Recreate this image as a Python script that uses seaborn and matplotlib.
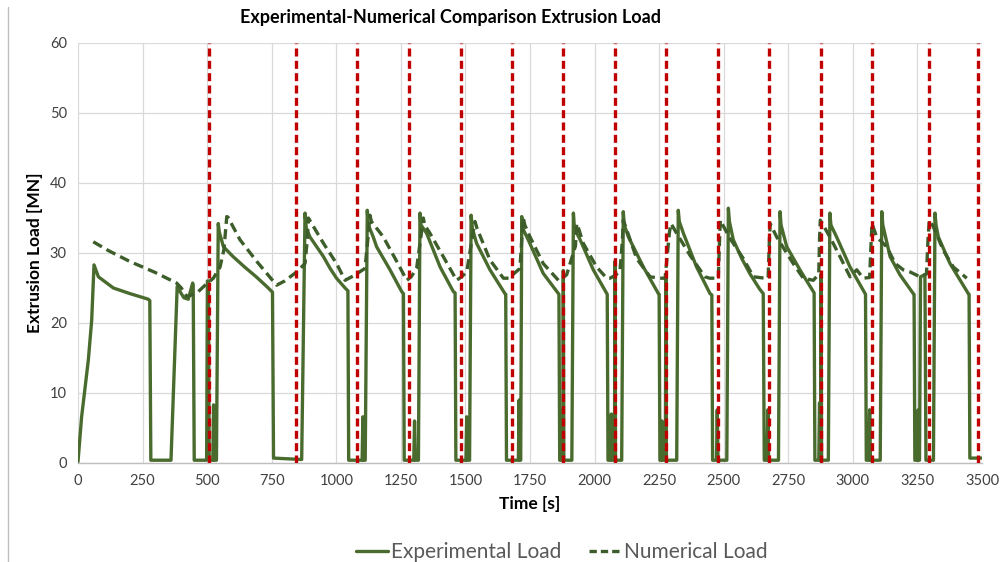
import matplotlib
matplotlib.use("Agg")
import matplotlib.pyplot as plt
import seaborn as sns
import pandas as pd
from matplotlib.lines import Line2D

# --- data ---
exp_time = [0, 14, 40, 53, 62, 79, 137, 201, 272, 278, 282, 360, 384, 395, 410, 427, 444, 446, 450,
            498, 501, 505, 508, 522, 525, 528, 536, 543, 547, 563, 600, 630, 645, 690, 731, 750, 753, 757,
            866, 879, 884, 898, 950, 976, 1001, 1034, 1045, 1048, 1100, 1103, 1106, 1112, 1120,
            1124, 1143, 1156, 1208, 1253, 1260, 1263, 1300, 1303, 1306, 1318, 1324,
            1328, 1350, 1402, 1453, 1460, 1463, 1502, 1505, 1508, 1516, 1522,
            1527, 1543, 1595, 1653, 1656, 1659, 1705, 1708, 1711, 1714, 1718,
            1722, 1743, 1801, 1860, 1862, 1865, 1870, 1872, 1875, 1877, 1879, 1881, 1912, 1918,
            1922, 1944, 1995, 2047, 2049, 2052, 2062, 2065, 2068, 2077, 2079, 2081, 2105, 2111,
            2115, 2131, 2189, 2247, 2250, 2253, 2258, 2261, 2264, 2274, 2276, 2278, 2318, 2324,
            2328, 2344, 2395, 2447, 2454, 2457, 2472, 2475, 2478, 2512, 2518,
            2522, 2537, 2570, 2602, 2640, 2653, 2657, 2668, 2671, 2674, 2712, 2718,
            2722, 2744, 2795, 2847, 2850, 2853, 2868, 2871, 2874, 2876, 2877, 2879, 2905, 2911,
            2915, 2937, 2989, 3047, 3049, 3052, 3062, 3065, 3068, 3106, 3112,
            3116, 3144, 3182, 3234, 3237, 3240, 3250, 3253, 3256, 3258, 3262, 3279, 3283, 3312, 3318,
            3322, 3331, 3376, 3447, 3450, 3453, 3500]
exp_load = [0.2, 6.6, 14.7, 20.4, 28.3, 26.6, 25.0, 24.2, 23.4, 23.2, 0.4, 0.4, 25.2, 24.5, 23.6, 23.4, 25.7, 25.4, 0.4,
            0.4, 26.0, 26.0, 0.4, 0.4, 8.3, 0.4, 0.4, 34.2, 33.0, 30.9, 29.5, 28.5, 28.0, 26.6, 25.2, 24.5, 24.4, 0.7,
            0.5, 35.7, 33.5, 32.3, 29.5, 27.8, 26.4, 25.0, 24.6, 0.4, 0.4, 6.6, 0.4, 0.4, 36.1,
            34.0, 32.3, 30.9, 27.6, 24.5, 24.2, 0.4, 0.4, 6.0, 0.4, 0.4, 35.7,
            34.0, 32.8, 28.0, 24.5, 24.3, 0.4, 0.4, 6.6, 0.4, 0.4, 35.4,
            33.5, 31.4, 27.6, 24.2, 24.1, 0.4, 0.4, 9.0, 0.4, 0.4, 35.2,
            33.5, 31.9, 27.1, 24.2, 24.1, 0.4, 0.4, 7.5, 0.4, 0.4, 27.5, 0.4, 0.4, 35.7,
            33.5, 31.9, 27.6, 24.2, 24.1, 0.4, 0.4, 7.0, 0.4, 0.4, 28.8, 0.4, 0.4, 35.9,
            34.0, 32.3, 28.0, 24.2, 24.1, 0.4, 0.4, 6.0, 0.4, 0.4, 27.0, 0.4, 0.4, 36.1,
            34.5, 32.8, 28.0, 24.2, 24.0, 0.4, 0.4, 7.6, 0.4, 0.4, 36.4,
            34.5, 31.9, 29.2, 27.0, 24.8, 24.2, 0.4, 0.4, 7.6, 0.4, 0.4, 35.9,
            34.0, 30.9, 27.6, 24.5, 24.3, 0.4, 0.4, 8.6, 0.4, 0.4, 27.0, 0.4, 0.4, 35.7,
            34.0, 32.3, 28.0, 24.2, 24.1, 0.4, 0.4, 7.6, 0.4, 0.4, 35.9,
            34.0, 29.5, 26.9, 24.2, 24.1, 0.4, 0.4, 7.6, 0.4, 0.4, 26.6, 26.9, 0.4, 0.4, 35.7,
            34.0, 32.3, 28.5, 24.2, 24.1, 0.7, 0.7]

num_time = [59, 120, 200, 300, 382, 400, 421, 440, 466, 495, 524, 550, 565, 576, 581, 627, 692, 769, 800, 847,
            879, 888, 892, 900, 950, 1001, 1034, 1070, 1111, 1125, 1130, 1136, 1182, 1234, 1273, 1290, 1311,
            1330, 1337, 1342, 1363, 1414, 1466, 1485, 1505, 1530, 1537, 1545, 1595, 1647, 1667, 1680, 1711,
            1720, 1724, 1730, 1750, 1801, 1860, 1878, 1892, 1926, 1931, 1940, 1956, 2008, 2047, 2060, 2079,
            2098, 2108, 2111, 2118, 2163, 2215, 2253, 2273, 2290, 2296, 2318, 2369, 2427, 2446, 2479,
            2484, 2487, 2492, 2524, 2576, 2615, 2660, 2672, 2677, 2680, 2705, 2769, 2808, 2847, 2868,
            2871, 2874, 2911, 2950, 2989, 3015, 3040, 3065, 3070, 3074, 3092, 3131, 3164, 3195, 3221,
            3260, 3285, 3291, 3296, 3311, 3350, 3389, 3441]
num_load = [31.6, 30.3, 28.8, 27.2, 25.7, 25.0, 23.8, 24.0, 24.5, 25.5, 26.4, 28.0, 30.5, 35.2, 35.1, 31.9, 28.8, 25.4, 26.0, 27.3,
            28.5, 32.0, 35.0, 34.5, 31.4, 28.5, 26.1, 26.8, 27.8, 33.0, 35.4, 34.5, 32.3, 28.8, 26.1, 26.6, 27.8,
            33.0, 35.0, 34.0, 32.8, 29.5, 26.1, 26.6, 27.3, 33.0, 34.5, 33.5, 29.0, 26.4, 26.4, 26.8, 27.8,
            33.0, 35.0, 34.0, 32.3, 28.5, 26.1, 26.5, 26.9, 31.0, 34.2, 33.3, 31.4, 28.0, 26.4, 26.4, 26.8,
            27.3, 32.0, 34.7, 34.0, 29.2, 26.6, 26.4, 26.4, 33.0, 34.2, 32.8, 29.7, 26.6, 26.4, 26.4,
            32.0, 34.7, 34.3, 32.1, 29.2, 26.6, 26.4, 26.4, 32.0, 34.2, 32.3, 28.5, 26.4, 26.1, 27.0,
            32.0, 34.7, 32.3, 29.5, 26.6, 27.6, 26.4, 26.5, 31.0, 34.2, 32.3, 30.9, 28.5, 27.6, 27.3,
            26.6, 27.0, 32.0, 34.7, 33.8, 30.4, 28.0, 26.4]

die_times = [507, 844, 1080, 1281, 1483, 1680, 1878, 2079, 2276, 2478, 2675, 2877, 3074, 3295, 3484]

x_ticks = list(range(0, 3501, 250))
y_ticks = list(range(0, 61, 10))

exp_df = pd.DataFrame({"Time": exp_time, "Load": exp_load})
num_df = pd.DataFrame({"Time": num_time, "Load": num_load})

# --- style ---
sns.set_theme(style="white")
plt.rcParams['font.family'] = ['Lato', 'DejaVu Sans']

exp_color = '#4a6b2e'
num_color = '#3d5e2a'
red = '#c00000'
txt = '#404040'

fig = plt.figure(figsize=(10.07, 5.62), dpi=100)
ax = fig.add_axes([78 / 1007, 99 / 562, 904 / 1007, 420 / 562])

sns.lineplot(data=exp_df, x="Time", y="Load", ax=ax, color=exp_color, lw=2.4,
             sort=False, estimator=None, zorder=3)
sns.lineplot(data=num_df, x="Time", y="Load", ax=ax, color=num_color, lw=2.4,
             sort=False, estimator=None, linestyle=(0, (3, 1.6)), zorder=3)

# die change markers
for t in die_times:
    ax.axvline(t, color=red, lw=2.4, linestyle=(0, (2.4, 1.3)), zorder=4)

ax.set_xlim(0, 3500)
ax.set_ylim(0, 60)
ax.set_xticks(x_ticks)
ax.set_yticks(y_ticks)
ax.grid(True, color='#d9d9d9', lw=0.9, zorder=0)
ax.set_axisbelow(True)
for side in ['top', 'right', 'left']:
    ax.spines[side].set_visible(False)
ax.spines['bottom'].set_color('#bfbfbf')
ax.spines['bottom'].set_linewidth(1.0)
ax.tick_params(axis='both', length=0, labelsize=10.5, colors=txt, pad=8)

ax.set_xlabel('Time [s]', fontsize=12.5, fontweight='bold', color='black', labelpad=6)
ax.set_ylabel('Extrusion Load [MN]', fontsize=12.5, fontweight='bold', color='black', labelpad=5)

fig.text(0.447, 0.968, 'Experimental-Numerical Comparison Extrusion Load',
         ha='center', va='center', fontsize=13, fontweight='bold', color='black')

# outer chart border on the left
fig.add_artist(Line2D([8 / 1007, 8 / 1007], [0, 0.9875], color='#bfbfbf', lw=1.0))

handles = [Line2D([], [], color=exp_color, lw=2.4),
           Line2D([], [], color=num_color, lw=2.4, linestyle=(0, (2.2, 1.2)))]
leg = fig.legend(handles, ['Experimental Load', 'Numerical Load'], loc='center',
                 bbox_to_anchor=(562 / 1007, 1 - 552 / 562), ncol=2, frameon=False,
                 fontsize=15, handlelength=1.55, handletextpad=0.15, columnspacing=1.3)
for t in leg.get_texts():
    t.set_color('#595959')

fig.savefig('out.png', dpi=100, facecolor='white')
